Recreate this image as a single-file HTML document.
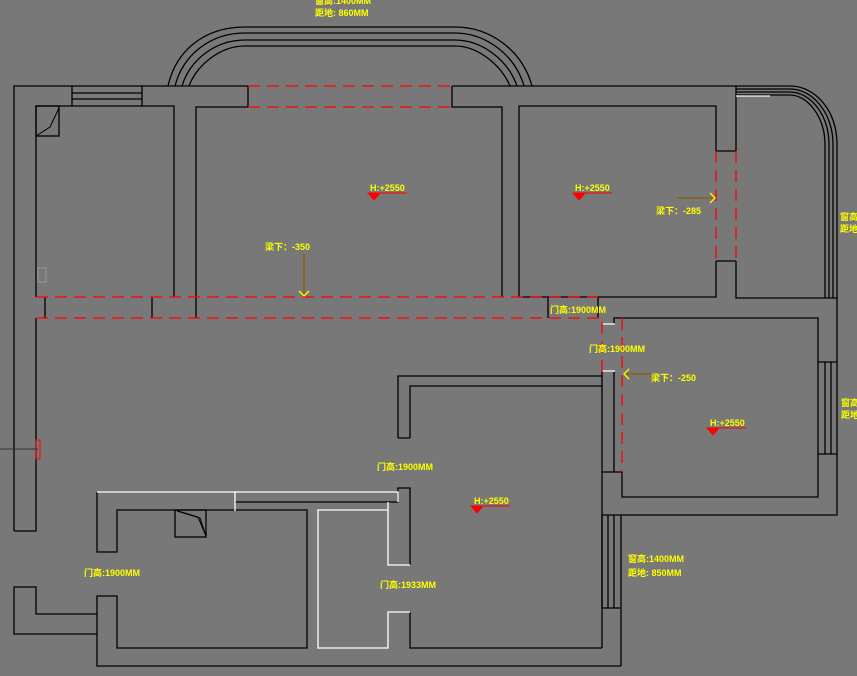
<!DOCTYPE html>
<html><head><meta charset="utf-8"><style>
html,body{margin:0;padding:0;background:#787878;}
svg{display:block}
text{font-family:"Liberation Sans","Noto Sans CJK SC",sans-serif;font-size:9px;font-weight:bold;fill:#ffff00}
</style></head><body>
<svg width="857" height="676" viewBox="0 0 857 676" xmlns="http://www.w3.org/2000/svg">
<rect width="857" height="676" fill="#787878"/>
<g stroke="#000" stroke-width="1.3" fill="none">
<path d="M168,86 C176,50 205,27 245,27 L455,27 C490,27 522,50 532,86"/>
<path d="M175,86 C183,55 210,33 245,33 L455,33 C486,33 515,55 524,86"/>
<path d="M182,86 C190,60 215,40 245,40 L455,40 C482,40 508,60 517,86"/>
<path d="M189,86 C197,65 220,46 245,46 L455,46 C478,46 501,65 510,86"/>
<path d="M736,86 L790,86 C815,86 837,110 837,145 L837,298"/>
<path d="M736,89 L790,89 C812,89 833,112 833,145 L833,298"/>
<path d="M736,92 L790,92 C810,92 829,114 829,145 L829,298"/>
<path d="M736,95 L790,95 C807,95 825,116 825,145 L825,298"/>
<path d="M14,531 L14,86 L248,86 L248,107 L196,107 L196,318"/>
<path d="M452,86 L736,86 L736,151 M736,261 L736,298 L837,298 L837,515 L602,515"/>
<path d="M452,86 L452,107 L502,107 L502,297"/>
<path d="M72,86 L72,106 M142,86 L142,106 M72,93 L142,93 M72,99 L142,99"/>
<path d="M36,297 L36,106 L174,106 L174,297"/>
<path d="M36,318 L36,531 L14,531"/>
<path d="M45,297 L45,318 M152,297 L152,318"/>
<path d="M519,297 L519,106 L716,106 L716,151 L736,151 M716,261 L736,261 M716,261 L716,297 L519,297"/>
<path d="M548,297 L548,318 M598,297 L598,318"/>
<path d="M614,324 L614,318 L818,318 L818,497 L622,497 L622,472 L602,472 M614,372 L614,472"/>
<path d="M602,372 L602,648 M818,362 L837,362 M818,454 L837,454 M825,362 L825,454 M831,362 L831,454"/>
<path d="M602,515 L602,608 M608,515 L608,608 M614,515 L614,608 M621,515 L621,666 M602,608 L621,608"/>
<path d="M398,438 L398,376 L602,376 M410,438 L410,386 L602,386 M398,438 L410,438"/>
<path d="M235,502 L398,502 L398,488 L410,488 L410,565"/>
<path d="M410,612 L410,648 L602,648"/>
<path d="M97,492 L97,552 L117,552 L117,510 L307,510 L307,648 L117,648 L117,596 L97,596 L97,666 L621,666"/>
<path d="M97,614 L36,614 L36,587 L14,587 L14,634 L97,634"/>
<rect x="175" y="510" width="31" height="27"/>
<path d="M177,511 L190,515 L200,518 L206,536 M178,511 L188,514 L198,517 L206,536" stroke-width="1"/>
<rect x="36" y="106" width="23" height="30"/>
<path d="M36,136 L50,127 L59,108" stroke-width="1"/>
</g>
<g stroke="#fff" stroke-width="1.3" fill="none">
<path d="M97,492 L398,492 L398,502 M235,492 L235,511"/>
<path d="M388,502 L388,565 L410,565"/>
<path d="M388,510 L318,510 L318,648 L388,648 L388,612 L410,612"/>
<path d="M602,324 L615,324 M602,371 L615,371 M736,96 L770,96"/>
</g>
<g stroke="#f00" stroke-width="1.3" fill="none" stroke-dasharray="12,7">
<path d="M248,86 L452,86 M248,107 L452,107"/>
<path d="M36,297 L598,297 M36,318 L602,318"/>
<path d="M716,151 L716,261 M736,151 L736,261"/>
<path d="M602,322 L602,372 M622,318 L622,472"/>
</g>
<rect x="36" y="440" width="4" height="19" fill="none" stroke="#f00" stroke-width="1"/>
<line x1="0" y1="449" x2="38" y2="449" stroke="#333" stroke-width="1"/>
<rect x="38" y="268" width="8" height="14" fill="none" stroke="#999" stroke-width="1"/>
<g stroke="#8a6000" stroke-width="1.3">
<line x1="304" y1="254" x2="304" y2="294"/>
<line x1="677" y1="198" x2="713" y2="198"/>
<line x1="624" y1="374" x2="652" y2="374"/>
</g>
<g stroke="#ff0" stroke-width="1.3" fill="none">
<path d="M299,291 L304,296 L309,291"/>
<path d="M710,193 L715,198 L710,203"/>
<path d="M629,369 L624,374 L629,379"/>
</g>
<g fill="#f00" stroke="#f00" stroke-width="1">
<path d="M368,193 L380,193 L374,200 Z"/><line x1="368" y1="193" x2="407" y2="193"/>
<path d="M573,193 L585,193 L579,200 Z"/><line x1="573" y1="193" x2="612" y2="193"/>
<path d="M707,428 L719,428 L713,435 Z"/><line x1="707" y1="428" x2="746" y2="428"/>
<path d="M471,506 L483,506 L477,513 Z"/><line x1="471" y1="506" x2="510" y2="506"/>
</g>
<text x="370" y="191">H:+2550</text>
<text x="575" y="191">H:+2550</text>
<text x="710" y="426">H:+2550</text>
<text x="474" y="504">H:+2550</text>
<text x="265" y="250">梁下：-350</text>
<text x="656" y="214">梁下：-285</text>
<text x="651" y="381">梁下：-250</text>
<text x="550" y="313">门高:1900MM</text>
<text x="589" y="352">门高:1900MM</text>
<text x="377" y="470">门高:1900MM</text>
<text x="84" y="576">门高:1900MM</text>
<text x="380" y="588">门高:1933MM</text>
<text x="628" y="562">窗高:1400MM</text>
<text x="628" y="576">距地: 850MM</text>
<text x="315" y="4">窗高:1400MM</text>
<text x="315" y="16">距地: 860MM</text>
<text x="840" y="220">窗高</text>
<text x="840" y="232">距地</text>
<text x="841" y="406">窗高</text>
<text x="841" y="418">距地</text>
</svg>
</body></html>
